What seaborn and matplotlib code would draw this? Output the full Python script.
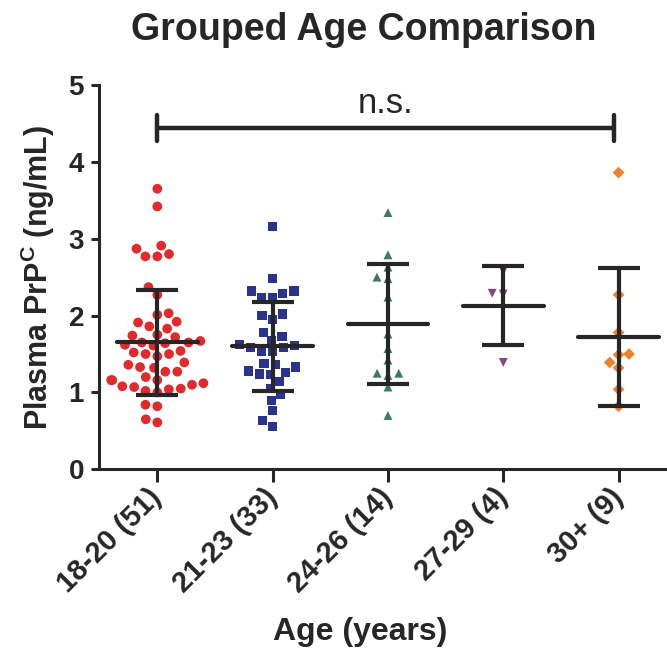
import matplotlib
matplotlib.use("Agg")
import matplotlib.pyplot as plt
import seaborn as sns
import pandas as pd
import numpy as np

# ---- data ----
categories = ["18-20 (51)", "21-23 (33)", "24-26 (14)", "27-29 (4)", "30+ (9)"]

g1_18_20 = [3.65, 3.42, 2.91, 2.87, 2.80, 2.77, 2.77, 2.37, 2.27, 2.01, 2.03, 1.92,
            1.91, 1.86, 1.83, 1.75, 1.72, 1.74, 1.62, 1.65, 1.65, 1.67, 1.61, 1.54,
            1.52, 1.47, 1.50, 1.50, 1.36, 1.39, 1.32, 1.33, 1.27, 1.27, 1.20, 1.16,
            1.16, 1.16, 1.10, 1.07, 1.12, 1.08, 1.05, 1.04, 1.02, 1.00, 0.84, 0.82,
            0.61, 0.65, 1.64]
g2_21_23 = [3.16, 2.48, 2.32, 2.32, 2.24, 2.23, 2.29, 2.02, 1.95, 2.00, 1.78, 1.73,
            1.68, 1.61, 1.58, 1.54, 1.54, 1.59, 1.62, 1.36, 1.28, 1.24, 1.23, 1.26,
            1.33, 1.38, 1.14, 1.05, 0.98, 0.90, 0.76, 0.63, 0.56]
g3_24_26 = [3.34, 2.79, 2.63, 2.48, 2.50, 2.24, 1.76, 1.57, 1.42, 1.25, 1.22, 1.25,
            1.07, 0.70]
g4_27_29 = [2.58, 2.29, 2.28, 1.39]
g5_30plus = [3.86, 2.27, 1.78, 1.50, 1.49, 1.39, 1.32, 1.04, 0.82]

group_values = [g1_18_20, g2_21_23, g3_24_26, g4_27_29, g5_30plus]
group_means = [1.65, 1.60, 1.89, 2.13, 1.72]
group_sds = [0.68, 0.58, 0.78, 0.51, 0.90]

colors = ["#E2292B", "#2B348C", "#3F7A5E", "#87477D", "#F0812C"]
markers = ["o", "s", "^", "v", "D"]
msizes = [7.0, 6.6, 6.4, 6.4, 6.0]

title = "Grouped Age Comparison"
ylabel = r"Plasma PrP$^{\mathbf{C}}$ (ng/mL)"
xlabel = "Age (years)"
sig_label = "n.s."

# ---- style ----
sns.set_theme(style="white")
plt.rcParams["font.family"] = ["Liberation Sans", "DejaVu Sans"]
plt.rcParams["mathtext.fontset"] = "custom"
plt.rcParams["mathtext.rm"] = "Liberation Sans"
plt.rcParams["mathtext.bf"] = "Liberation Sans:bold"
plt.rcParams["mathtext.it"] = "Liberation Sans:italic"
plt.rcParams["mathtext.default"] = "bf"

ink = "#262626"
W, H = 667, 653
fig = plt.figure(figsize=(W / 100, H / 100), dpi=100)
ax = fig.add_axes([99.3 / W, 183.7 / H, (W - 99.3) / W, 384.3 / H])

df = pd.DataFrame({
    "group": np.concatenate([[c] * len(v) for c, v in zip(categories, group_values)]),
    "value": np.concatenate(group_values),
})

for cat, col, mk, ms in zip(categories, colors, markers, msizes):
    sub = df[df["group"] == cat]
    sns.swarmplot(data=sub, x="group", y="value", order=categories, color=col,
                  marker=mk, size=ms, linewidth=1.2, edgecolor="none", ax=ax,
                  zorder=2)

pos = np.arange(len(categories))
ax.errorbar(pos, group_means, yerr=group_sds, fmt="none", ecolor=ink,
            elinewidth=3, capsize=15, capthick=3, zorder=4)
ax.hlines(group_means, pos - 0.35, pos + 0.35, color=ink, lw=3, zorder=4,
          capstyle="round")

# significance bracket
bracket_y, bracket_tick = 4.44, 0.175
bx0, bx1 = 0, 3.96
ax.plot([bx0, bx1], [bracket_y, bracket_y], color=ink, lw=3.2, zorder=5,
        solid_capstyle="butt")
for bx in (bx0, bx1):
    ax.plot([bx, bx], [bracket_y - bracket_tick, bracket_y + bracket_tick],
            color=ink, lw=3.2, zorder=5, solid_capstyle="round")
ax.text((bx0 + bx1) / 2, 4.63, sig_label, ha="center", va="baseline",
        fontsize=25, color=ink)

ax.set_xlim(-0.503, 4.42)
ax.set_ylim(0, 5)
ax.set_yticks([0, 1, 2, 3, 4, 5])
ax.set_xticks(pos)
ax.set_xticklabels(categories, rotation=45, ha="right", va="center",
                   rotation_mode="anchor", fontsize=21, fontweight="bold", color=ink)
for lab in ax.get_yticklabels():
    lab.set_fontsize(20)
    lab.set_fontweight("bold")
    lab.set_color(ink)

ax.tick_params(axis="y", direction="out", length=6, width=2.2, color=ink, pad=5,
               left=True)
ax.tick_params(axis="x", direction="out", length=9, width=2.2, color=ink, pad=8,
               bottom=True)
for side in ("top", "right"):
    ax.spines[side].set_visible(False)
for side in ("left", "bottom"):
    ax.spines[side].set_linewidth(2.2)
    ax.spines[side].set_color(ink)

ax.set_xlabel(xlabel, fontsize=23, fontweight="bold", color=ink)
ax.set_ylabel(ylabel, fontsize=22, fontweight="bold", color=ink, labelpad=8)
ax.xaxis.set_label_coords(0.459, -0.384)

fig.text(364 / W, 1 - 30 / H, title, ha="center", va="center", fontsize=27,
         fontweight="bold", color=ink)

fig.savefig("out.png", dpi=100)
